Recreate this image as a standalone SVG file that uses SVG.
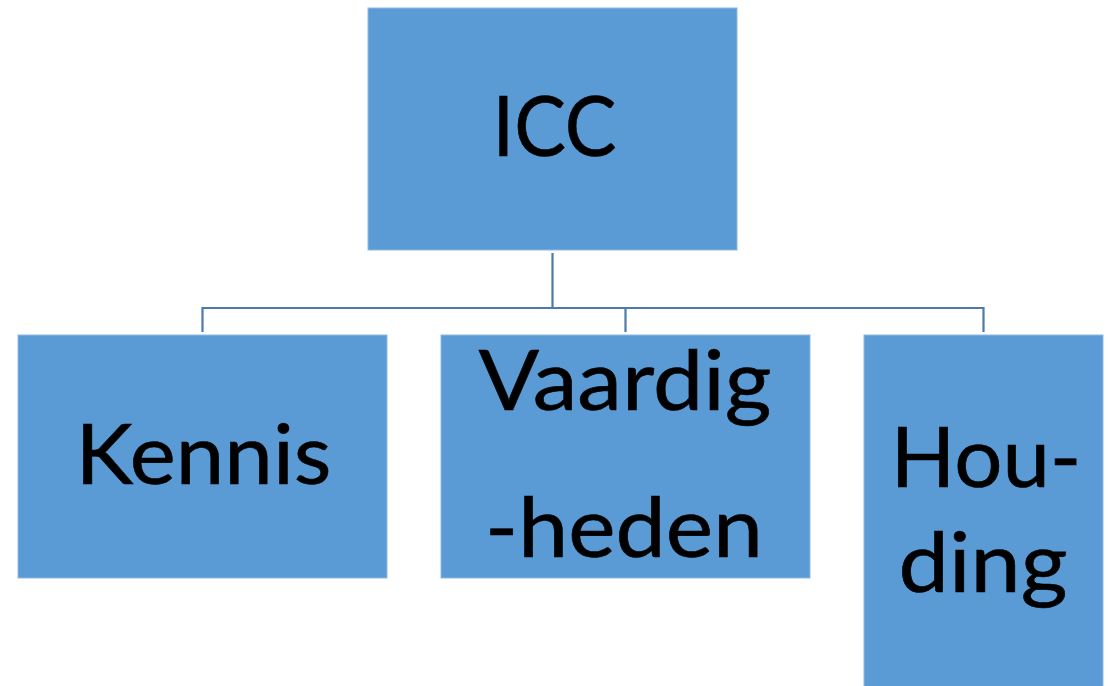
<svg xmlns="http://www.w3.org/2000/svg" width="1112" height="686" viewBox="0 0 1112 686">
  <style>
    .box { fill: #5B9BD5; stroke: #8DB9E4; stroke-width: 1; }
    .label { font-family: Lato, "Open Sans", sans-serif; font-size: 83px; fill: #000000; stroke: #000000; stroke-width: 0.6; text-anchor: middle; }
    .link { fill: none; stroke: #4A7BAA; stroke-width: 2.2; }
  </style>
  <rect width="1112" height="686" fill="#FFFFFF"/>
  <!-- connectors -->
  <g id="connectors">
    <path class="link" d="M552.5 253 V308 M202.5 332 V308 H983.5 V332 M625.5 308 V332"/>
  </g>
  <!-- nodes -->
  <g id="node-icc">
    <rect class="box" x="368" y="8" width="369" height="242"/>
    <text class="label" x="554.5" y="156" textLength="124" lengthAdjust="spacingAndGlyphs">ICC</text>
  </g>
  <g id="node-kennis">
    <rect class="box" x="18" y="335" width="369" height="243"/>
    <text class="label" x="203.5" y="484" textLength="256" lengthAdjust="spacingAndGlyphs">Kennis</text>
  </g>
  <g id="node-vaardigheden">
    <rect class="box" x="441" y="335" width="369" height="243"/>
    <text class="label" x="625" y="410" textLength="293" lengthAdjust="spacingAndGlyphs">Vaardig</text>
    <text class="label" x="624" y="557" textLength="278" lengthAdjust="spacingAndGlyphs">-heden</text>
  </g>
  <g id="node-houding">
    <rect class="box" x="864" y="335" width="239" height="360"/>
    <text class="label" x="986" y="487" textLength="191" lengthAdjust="spacingAndGlyphs">Hou-</text>
    <text class="label" x="983" y="592" textLength="169" lengthAdjust="spacingAndGlyphs">ding</text>
  </g>
</svg>
